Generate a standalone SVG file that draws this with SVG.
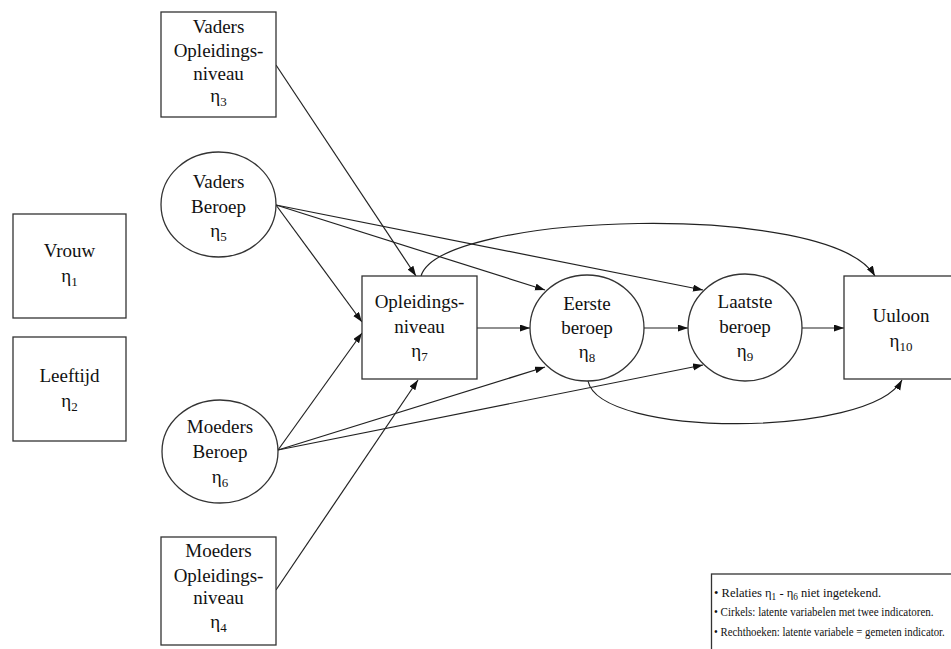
<svg xmlns="http://www.w3.org/2000/svg" width="951" height="649" viewBox="0 0 951 649">
<style>
.n{fill:#fff;stroke:#333;stroke-width:1.3}
.t{font-family:"Liberation Serif","Times New Roman",serif;font-size:19px;fill:#111;text-anchor:middle}
.s{font-size:13px}
.c{fill:none;stroke:#222;stroke-width:1.2}
.lg{font-family:"Liberation Serif","Times New Roman",serif;font-size:13.5px;fill:#111}
</style>
<defs>
<marker id="a" markerUnits="userSpaceOnUse" markerWidth="11" markerHeight="8" refX="10" refY="3.5" orient="auto">
<path d="M0,0 L10,3.5 L0,7 z" fill="#111"/>
</marker>
</defs>
<rect width="951" height="649" fill="#fff"/>
<g id="connectors">
<path class="c" marker-end="url(#a)" d="M276,65 L416,276"/>
<path class="c" marker-end="url(#a)" d="M276,205 L362,322"/>
<path class="c" marker-end="url(#a)" d="M276,205 L545,290"/>
<path class="c" marker-end="url(#a)" d="M276,205 L703,290"/>
<path class="c" marker-end="url(#a)" d="M278,450 L362,333"/>
<path class="c" marker-end="url(#a)" d="M278,450 L545,367"/>
<path class="c" marker-end="url(#a)" d="M278,450 L703,365"/>
<path class="c" marker-end="url(#a)" d="M276,590 L418,380"/>
<path class="c" marker-end="url(#a)" d="M477,328 L530,328"/>
<path class="c" marker-end="url(#a)" d="M644,328 L688,328"/>
<path class="c" marker-end="url(#a)" d="M802,328 L844,328"/>
<path class="c" marker-end="url(#a)" d="M421,276 C440,212 830,200 875,276"/>
<path class="c" marker-end="url(#a)" d="M588,381 C600,438 870,438 902,380"/>
</g>
<g id="n3"><rect class="n" x="161" y="12" width="115" height="105"/>
<text class="t" x="218.5" y="33">Vaders</text><text class="t" x="218.5" y="57">Opleidings-</text><text class="t" x="218.5" y="80">niveau</text><text class="t" x="218.5" y="102">η<tspan class="s" dy="4">3</tspan></text></g>
<g id="n5"><ellipse class="n" cx="218.5" cy="204.5" rx="57.5" ry="52.5"/>
<text class="t" x="218.5" y="188">Vaders</text><text class="t" x="218.5" y="213">Beroep</text><text class="t" x="218.5" y="237">η<tspan class="s" dy="4">5</tspan></text></g>
<g id="n1"><rect class="n" x="13" y="214" width="113" height="104"/>
<text class="t" x="69.5" y="257">Vrouw</text><text class="t" x="69.5" y="282">η<tspan class="s" dy="4">1</tspan></text></g>
<g id="n2"><rect class="n" x="13" y="337" width="113" height="104"/>
<text class="t" x="69.5" y="382">Leeftijd</text><text class="t" x="69.5" y="407">η<tspan class="s" dy="4">2</tspan></text></g>
<g id="n7"><rect class="n" x="362" y="276" width="115" height="103"/>
<text class="t" x="419.5" y="308">Opleidings-</text><text class="t" x="419.5" y="333">niveau</text><text class="t" x="419.5" y="357">η<tspan class="s" dy="4">7</tspan></text></g>
<g id="n8"><ellipse class="n" cx="587" cy="328" rx="57" ry="53"/>
<text class="t" x="587" y="310">Eerste</text><text class="t" x="587" y="334">beroep</text><text class="t" x="587" y="358">η<tspan class="s" dy="4">8</tspan></text></g>
<g id="n9"><ellipse class="n" cx="745" cy="327.5" rx="57" ry="53.5"/>
<text class="t" x="745" y="308">Laatste</text><text class="t" x="745" y="333">beroep</text><text class="t" x="745" y="357">η<tspan class="s" dy="4">9</tspan></text></g>
<g id="n10"><rect class="n" x="844" y="276" width="114" height="103"/>
<text class="t" x="901" y="322">Uuloon</text><text class="t" x="901" y="347">η<tspan class="s" dy="4">10</tspan></text></g>
<g id="n6"><ellipse class="n" cx="220" cy="451.5" rx="58" ry="51.5"/>
<text class="t" x="220" y="433">Moeders</text><text class="t" x="220" y="458">Beroep</text><text class="t" x="220" y="483">η<tspan class="s" dy="4">6</tspan></text></g>
<g id="n4"><rect class="n" x="161" y="537" width="115" height="108"/>
<text class="t" x="218.5" y="557">Moeders</text><text class="t" x="218.5" y="582">Opleidings-</text><text class="t" x="218.5" y="604">niveau</text><text class="t" x="218.5" y="628">η<tspan class="s" dy="4">4</tspan></text></g>
<g id="legend">
<rect x="711.5" y="574" width="260" height="100" fill="#fff" stroke="#333" stroke-width="1.3"/>
<text class="lg" transform="translate(714,597) scale(0.93,1)">• Relaties η<tspan font-size="10" dy="3">1</tspan><tspan dy="-3"> - η</tspan><tspan font-size="10" dy="3">6</tspan><tspan dy="-3"> niet ingetekend.</tspan></text>
<text class="lg" transform="translate(714,616) scale(0.815,1)">• Cirkels: latente variabelen met twee indicatoren.</text>
<text class="lg" transform="translate(714,636) scale(0.8,1)">• Rechthoeken: latente variabele = gemeten indicator.</text>
</g>
</svg>
